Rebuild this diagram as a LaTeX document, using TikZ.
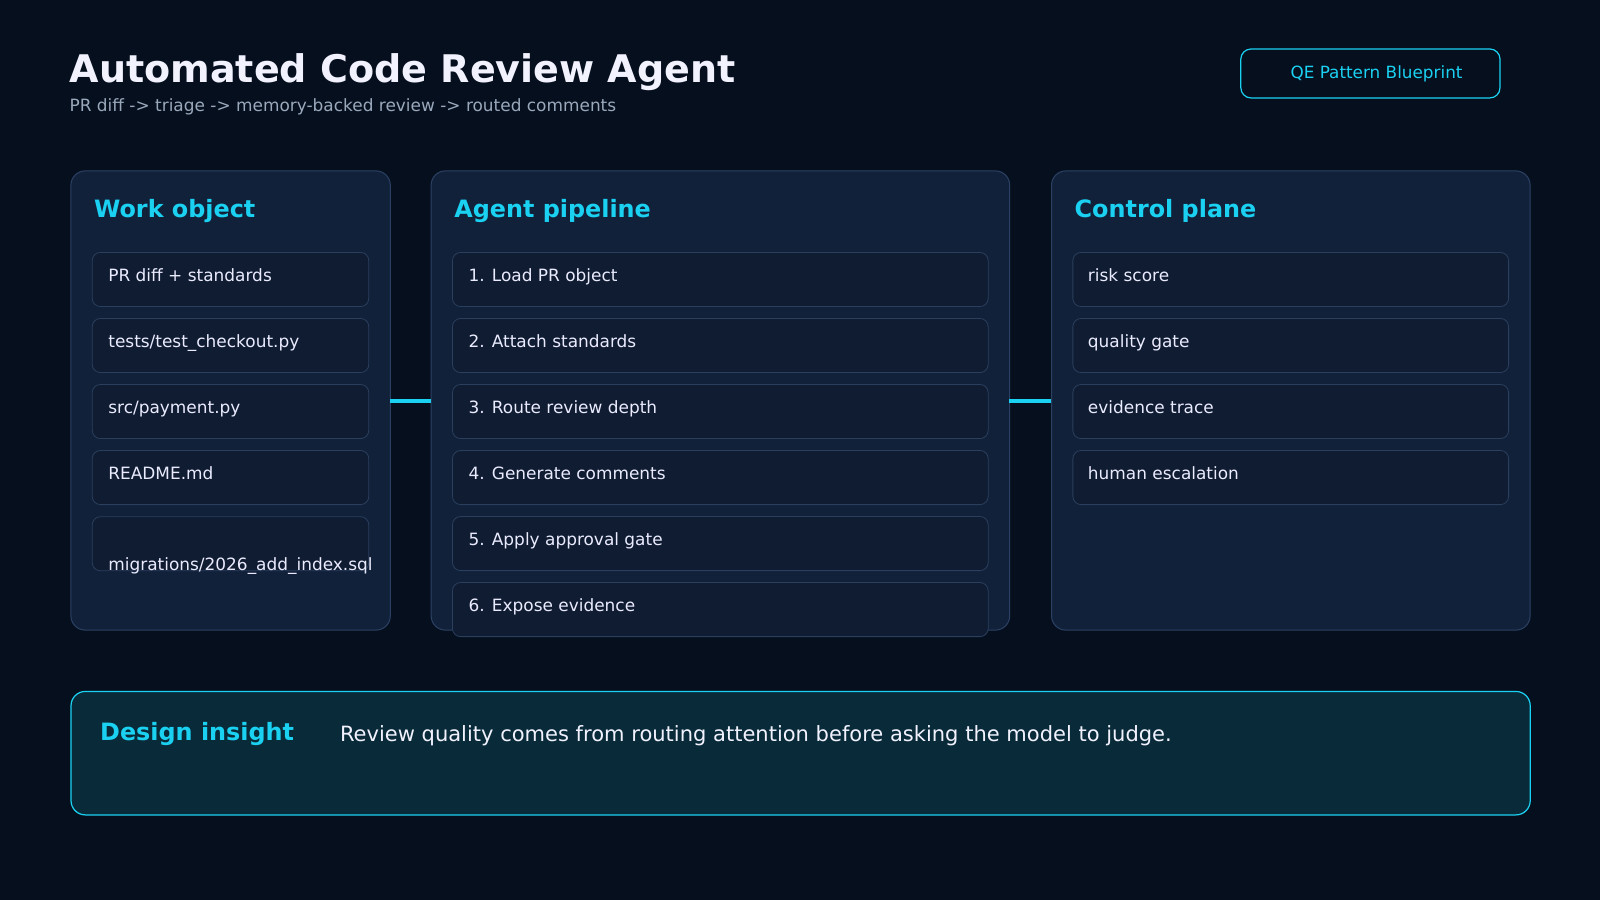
\documentclass[tikz,border=0pt]{standalone}
\usepackage{fontspec}
\setmainfont{DejaVu Sans}
\definecolor{bg}{HTML}{060F1E}
\definecolor{panel}{HTML}{11213A}
\definecolor{pborder}{HTML}{2B4163}
\definecolor{item}{HTML}{0F1C31}
\definecolor{iborder}{HTML}{2A3F5E}
\definecolor{cyan}{HTML}{1BD1F2}
\definecolor{insight}{HTML}{092A38}
\definecolor{sub}{HTML}{9AA8BC}
\begin{document}
\begin{tikzpicture}[x=1pt,y=-1pt,
 panel/.style={draw=pborder,fill=panel,rounded corners=14pt,line width=1pt},
 itembox/.style={draw=iborder,fill=item,rounded corners=8pt,line width=0.8pt},
 itxt/.style={anchor=base west,text=white!92!blue,font=\fontsize{16.6}{19}\selectfont,inner sep=0},
 head/.style={anchor=base west,text=cyan,font=\bfseries\fontsize{23.4}{27}\selectfont,inner sep=0},
 conn/.style={draw=cyan,line width=3pt}]
\fill[bg] (0,0) rectangle (1568,882);
\useasboundingbox (0,0) rectangle (1568,882);
\node[anchor=base west,inner sep=0,text=white!95!blue,font=\bfseries\fontsize{37.3}{42}\selectfont] (title) at (68,81) {Automated Code Review Agent};
\node[anchor=base west,inner sep=0,text=sub,font=\fontsize{16.6}{20}\selectfont] (subt) at (68,109) {PR diff -> triage -> memory-backed review -> routed comments};
\node[draw=cyan,line width=1.2pt,rounded corners=10pt,minimum width=254pt,minimum height=48pt,text=cyan,font=\fontsize{16.5}{19}\selectfont] (badge) at (1343,72) {\hspace*{12pt}QE Pattern Blueprint};
% panels
\node[panel,minimum width=313pt,minimum height=450pt,anchor=north west] (p1) at (69,167) {};
\node[panel,minimum width=567pt,minimum height=450pt,anchor=north west] (p2) at (422,167) {};
\node[panel,minimum width=469pt,minimum height=450pt,anchor=north west] (p3) at (1030,167) {};
\coordinate (c1) at (382,393); \coordinate (c2) at (422,393);
\coordinate (c3) at (989,393); \coordinate (c4) at (1030,393);
\draw[conn] (c1) -- (c2); \draw[conn] (c3) -- (c4);
\node[head] (h1) at (92,213) {Work object};
\node[head] (h2) at (445,213) {Agent pipeline};
\node[head] (h3) at (1053,213) {Control plane};
% items
\foreach \i/\t in {0/{PR diff + standards},1/{tests/test\_checkout.py},2/{src/payment.py},3/{README.md}}{
  \node[itembox,anchor=north west,minimum width=271pt,minimum height=53pt] (a\i) at (90,247+64.7*\i) {};
  \node[itxt] (at\i) at (106,276+64.7*\i) {\t};}
\node[itembox,anchor=north west,minimum width=271pt,minimum height=53pt] (a4) at (90,506) {};
\node[itxt] (at4) at (106,559) {migrations/2026\_add\_index.sql};
\foreach \i/\t in {0/1. Load PR object,1/2. Attach standards,2/3. Route review depth,3/4. Generate comments,4/5. Apply approval gate,5/6. Expose evidence}{
  \node[itembox,anchor=north west,minimum width=525pt,minimum height=53pt] (b\i) at (443,247+64.7*\i) {};
  \node[itxt] (bt\i) at (459,276+64.7*\i) {\t};}
\foreach \i/\t in {0/risk score,1/quality gate,2/evidence trace,3/human escalation}{
  \node[itembox,anchor=north west,minimum width=427pt,minimum height=53pt] (d\i) at (1051,247+64.7*\i) {};
  \node[itxt] (dt\i) at (1066,276+64.7*\i) {\t};}
% insight
\node[draw=cyan,fill=insight,line width=1.2pt,rounded corners=14pt,anchor=north west,minimum width=1430pt,minimum height=121pt] (ins) at (69,677) {};
\node[head] (insh) at (98,726) {Design insight};
\node[anchor=base west,inner sep=0,text=white!95!blue,font=\fontsize{20.6}{24}\selectfont] (inst) at (333,727) {Review quality comes from routing attention before asking the model to judge.};
\end{tikzpicture}
\end{document}
